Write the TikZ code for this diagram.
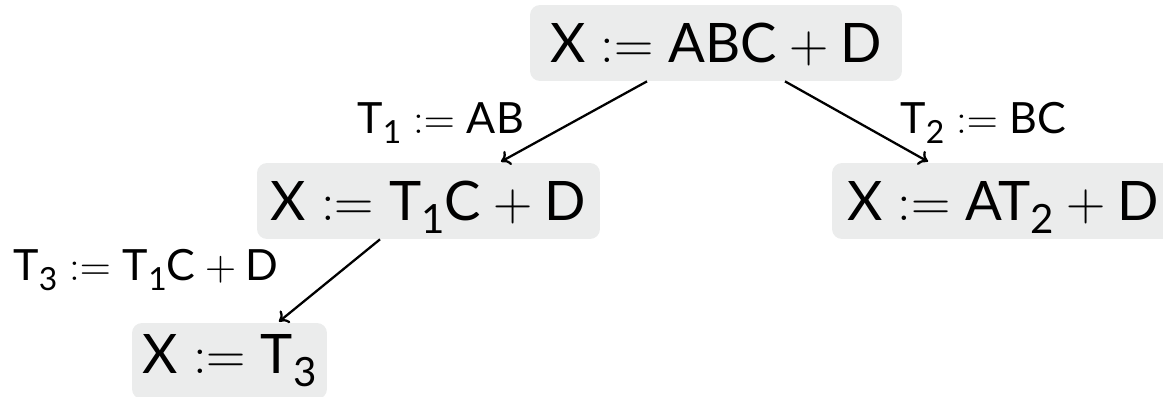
\RequirePackage{fix-cm}
\documentclass[tikz,border=0pt]{standalone}
\usepackage{fontspec}
\setmainfont{Lato}
\usetikzlibrary{arrows.meta}
\definecolor{boxgray}{HTML}{EBECEC}
\newcommand{\sbs}[1]{\raisebox{-0.24em}{\scalebox{0.74}{#1}}}
\newcommand{\asg}{${}\mathrel{:=}{}$}
\newcommand{\pls}{${}+{}$}
\begin{document}
\begin{tikzpicture}[x=0.02cm,y=-0.02cm,
  stmt/.style={fill=boxgray, rounded corners=0.2cm, inner sep=0pt,
    font=\fontsize{31}{36}\selectfont, text height=0.78cm, text depth=0pt,
    minimum height=1.52cm},
  lbl/.style={inner sep=0pt, font=\fontsize{24.5}{29}\selectfont, anchor=base west},
  arr/.style={-{To[length=5pt,width=9pt]}, line width=1.3pt}]
\useasboundingbox (0,0) rectangle (1163,396);
\clip (0,0) rectangle (1163,396);
\node[stmt, minimum width=7.44cm] (top) at (716,43) {X\asg ABC\pls D};
\node[stmt, minimum width=6.86cm] (ml) at (428.5,201) {X\asg T\sbs{1}C\pls D};
\node[stmt, minimum width=6.84cm] (mr) at (1003,201) {X\asg AT\sbs{2}\pls D};
\node[stmt, minimum width=3.9cm, text depth=0.3cm] (bot) at (229.5,361) {X\asg T\sbs{3}\hspace{0.3cm}};
\node[lbl] (l1) at (357,133) {T\sbs{1}\asg AB};
\node[lbl] (l2) at (900,133) {T\sbs{2}\asg BC};
\node[lbl] (l3) at (13,280) {T\sbs{3}\asg T\sbs{1}C\pls D};
\draw[arr] ([xshift=-1.38cm]top.south) -- ([xshift=1.45cm,yshift=0.02cm]ml.north);
\draw[arr] ([xshift=1.38cm]top.south) -- ([xshift=-1.5cm,yshift=0.02cm]mr.north);
\draw[arr] ([xshift=-0.97cm]ml.south) -- ([xshift=0.99cm,yshift=0.02cm]bot.north);
\end{tikzpicture}
\end{document}
